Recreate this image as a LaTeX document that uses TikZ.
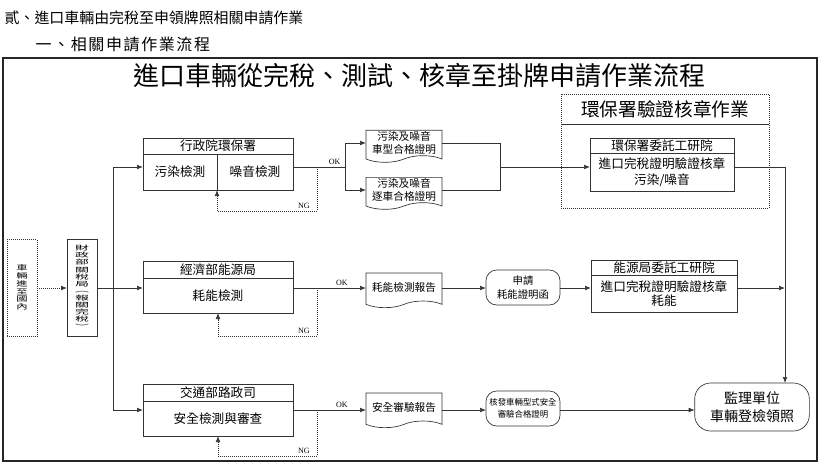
\documentclass[tikz,border=0pt]{standalone}
\usepackage{fontspec}
\usepackage{graphicx}
\setmainfont{Noto Sans CJK TC}
\newfontfamily\okfont{Liberation Serif}
\usetikzlibrary{arrows.meta,shapes.symbols}
\newcommand{\vtext}[3]{\scalebox{1}[#2]{\fontsize{#1}{#1}\selectfont\begin{tabular}{@{}c@{}}#3\end{tabular}}}

\begin{document}
\begin{tikzpicture}[x=0.75pt,y=-0.75pt,>={Latex[length=4.5pt,width=3.5pt]},
  every node/.style={outer sep=0pt, inner sep=0.5pt, align=center},
  box/.style={draw=black!80, line width=0.5pt, font=\fontsize{9.5}{12}\selectfont},
  doc/.style={draw=black!80, line width=0.5pt, tape, tape bend top=none, tape bend height=5pt,
    minimum width=57pt, minimum height=24pt, font=\fontsize{8}{10}\selectfont},
  roundbox/.style={draw=black!80, line width=0.5pt, rounded corners=8pt,
    minimum width=55.5pt, minimum height=26.25pt, font=\fontsize{7.8}{10.5}\selectfont},
  conn/.style={draw=black!80, line width=0.5pt},
  ng/.style={conn, densely dotted},
  ok/.style={above, inner sep=1.5pt, font=\okfont\fontsize{6}{7}\selectfont},
  nglabel/.style={above left, inner sep=1.5pt, xshift=-4pt, font=\okfont\fontsize{6}{7}\selectfont}]
\useasboundingbox (0,0) rectangle (823,474);

\node[anchor=west, font=\fontsize{11.2}{13}\selectfont] (chapter) at (4,18) {貳、進口車輛由完稅至申領牌照相關申請作業};
\node[anchor=west, font=\fontsize{12}{14}\selectfont\addfontfeature{LetterSpace=10}] (section) at (35,45) {一、相關申請作業流程};
\draw[line width=0.8pt, black!85] (3,58) rectangle (817,461);
\node[font=\fontsize{19.5}{22}\selectfont] (title) at (419,76) {進口車輛從完稅、測試、核章至掛牌申請作業流程};

\node[box, densely dotted, minimum width=22.5pt, minimum height=72.75pt] (arrive) at (22,288) {\vtext{8.5}{0.62}{車\\輛\\進\\至\\國\\內}};
\node[box, minimum width=22.5pt, minimum height=72.75pt] (tax) at (82,288) {\vtext{10.5}{0.46}{財\\政\\部\\關\\稅\\局\\︵\\報\\關\\完\\稅\\︶}};

\node[box, minimum width=112.5pt, minimum height=12pt] (envHead) at (218,146) {行政院環保署};
\node[box, minimum width=55.5pt, minimum height=27pt] (envL) at (180,172) {污染檢測};
\node[box, minimum width=57pt, minimum height=27pt] (envR) at (255,172) {噪音檢測};
\node[doc] (envDoc1) at (404,143) {污染及噪音\\車型合格證明};
\node[doc] (envDoc2) at (404,190) {污染及噪音\\逐車合格證明};

\node[box, densely dotted, minimum width=156pt, minimum height=22.5pt, font=\fontsize{14}{16}\selectfont] (epaTitle) at (665,109) {環保署驗證核章作業};
\node[box, densely dotted, minimum width=156pt, minimum height=63pt] (epaArea) at (665,166) {};
\node[box, minimum width=108pt, minimum height=11.25pt] (epaHead) at (662,145.5) {環保署委託工研院};
\node[box, minimum width=108pt, minimum height=28.5pt] (epaBody) at (662,172) {進口完稅證明驗證核章\\污染/噪音};

\node[box, minimum width=112.5pt, minimum height=12.75pt] (enerHead) at (218,269.5) {經濟部能源局};
\node[box, minimum width=112.5pt, minimum height=26.25pt] (enerBody) at (218,295.5) {耗能檢測};
\node[doc, minimum height=26pt] (enerDoc) at (404,287) {耗能檢測報告};
\node[roundbox] (enerApp) at (523,287.5) {申請\\耗能證明函};
\node[box, minimum width=109.5pt, minimum height=11.25pt] (itriHead) at (664,267.5) {能源局委託工研院};
\node[box, minimum width=109.5pt, minimum height=27.75pt, font=\fontsize{9.5}{10.5}\selectfont] (itriBody) at (664,293.5) {進口完稅證明驗證核章\\耗能};

\node[box, minimum width=112.5pt, minimum height=12.75pt] (motcHead) at (218,392.5) {交通部路政司};
\node[box, minimum width=112.5pt, minimum height=26.25pt] (motcBody) at (218,418.5) {安全檢測與審查};
\node[doc, minimum height=26pt] (safeDoc) at (404,407) {安全審驗報告};
\node[roundbox, font=\fontsize{6.3}{9}\selectfont] (safeCert) at (523,408.5) {核發車輛型式安全\\審驗合格證明};
\node[roundbox, rounded corners=12pt, minimum width=86pt, minimum height=36pt, font=\fontsize{10.5}{14}\selectfont] (final) at (752,407) {監理單位\\車輛登檢領照};

\coordinate (rowA) at (113,167);
\coordinate (rowC) at (113,410);
\coordinate (envSplit) at (345,167);
\coordinate (envJoin) at (500,167);
\coordinate (envNg) at (317,211);
\coordinate (enerNg) at (317,336);
\coordinate (motcNg) at (317,456);
\coordinate (rail) at (785,167);

\draw[ng,->] (arrive) -- (tax);
\draw[conn] (tax.east) -- (rowA |- tax.east);
\draw[conn] (rowA) -- (rowC);
\draw[conn,->] (rowA) -- (envL.west |- rowA);
\draw[conn,->] (rowA |- tax.east) -- (enerBody.west |- tax.east);
\draw[conn,->] (rowC) -- (motcBody.west |- rowC);

\draw[conn] (envR.east |- rowA) -- node[ok, pos=0.8] {OK} (envSplit);
\draw[conn,->] (envSplit) |- (envDoc1.west);
\draw[conn,->] (envSplit) |- (envDoc2.west);
\draw[ng,->] (envNg |- rowA) -- (envNg) node[nglabel] {NG} -| (envL.south east);
\draw[conn] (envDoc1.east) -| (envJoin);
\draw[conn] (envDoc2.east) -| (envJoin);
\draw[conn,->] (envJoin) -- (epaBody.west |- rowA);
\draw[conn,->] (epaBody.east |- rowA) -- (rail) -- (rail |- final.north);

\draw[conn,->] (enerBody.east |- tax.east) -- node[ok, pos=0.67] {OK} (enerDoc.west |- tax.east);
\draw[ng,->] (enerNg |- tax.east) -- (enerNg) node[nglabel] {NG} -| (enerBody.south);
\draw[conn,->] (enerDoc.east |- tax.east) -- (enerApp.west |- tax.east);
\draw[conn,->] (enerApp.east |- tax.east) -- (itriBody.west |- tax.east);
\draw[conn,->] (itriBody.east |- tax.east) -- (rail |- tax.east);

\draw[conn,->] (motcBody.east |- rowC) -- node[ok, pos=0.67] {OK} (safeDoc.west |- rowC);
\draw[ng,->] (motcNg |- rowC) -- (motcNg) node[nglabel] {NG} -| (motcBody.south);
\draw[conn,->] (safeDoc.east |- rowC) -- (safeCert.west |- rowC);
\draw[conn,->] (safeCert.east |- rowC) -- (final.west |- rowC);
\end{tikzpicture}
\end{document}
